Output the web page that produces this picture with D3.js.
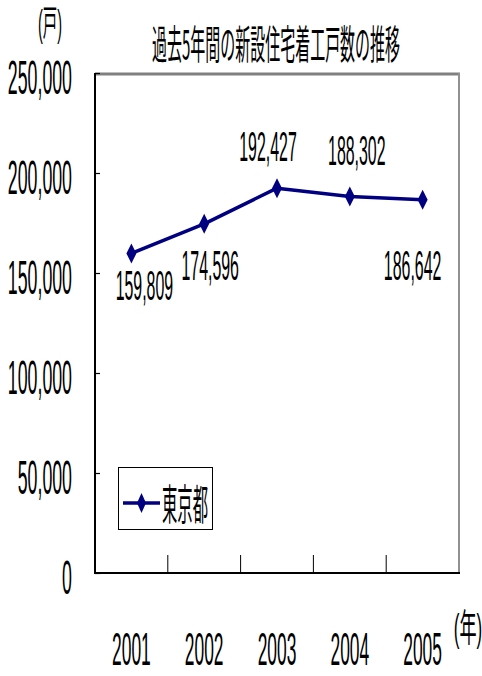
<!DOCTYPE html>
<html>
<head>
<meta charset="utf-8">
<script src="https://cdn.jsdelivr.net/npm/d3@7"></script>
<style>
  html, body { margin: 0; padding: 0; background: #fff; }
  svg { display: block; }
  .lat { font-family: "Liberation Sans", Arial, sans-serif; fill: #000; }
  .cjk { font-family: "Noto Sans CJK JP", sans-serif; fill: #000; }
  .mix { font-family: "Liberation Sans", "Noto Sans CJK JP", sans-serif; fill: #000; }
</style>
</head>
<body>
<script>
// New housing starts, Tokyo, 2001–2005
const years = ["2001", "2002", "2003", "2004", "2005"];
const tokyo = [159809, 174596, 192427, 188302, 186642];
const yTicks = [0, 50000, 100000, 150000, 200000, 250000];
const seriesName = "東京都";
const title = "過去5年間の新設住宅着工戸数の推移";

// hand placement of each value label relative to its point (px)
const labelNudge = [[13, 47], [6, 56], [-9, -27], [7, -31], [-10, 80]];

const W = 482, H = 676;
const plot = { left: 95, right: 459, top: 73, bottom: 573 };
const navy = "#000080";

const svg = d3.select("body").append("svg")
  .attr("width", W).attr("height", H);

const x = d3.scaleBand().domain(years).range([plot.left, plot.right]).padding(0);
const y = d3.scaleLinear().domain([0, 250000]).range([plot.bottom, plot.top]);
const fmt = d3.format(",");

// condensed text: glyphs squeezed horizontally
function label(g, text, px, py, size, sx, anchor, cls) {
  return g.append("text")
    .attr("class", cls || "lat")
    .attr("transform", `translate(${px},${py}) scale(${sx},1)`)
    .attr("text-anchor", anchor)
    .attr("font-size", size)
    .text(text);
}

// plot frame: grey top and right edges
svg.append("line")
  .attr("x1", plot.left).attr("x2", plot.right + 1)
  .attr("y1", plot.top + 1).attr("y2", plot.top + 1)
  .attr("stroke", "#808080").attr("stroke-width", 3);
svg.append("line")
  .attr("x1", plot.right).attr("x2", plot.right)
  .attr("y1", plot.top).attr("y2", plot.bottom)
  .attr("stroke", "#909090").attr("stroke-width", 2);

// y axis: inward ticks
const yAxis = svg.append("g")
  .attr("transform", `translate(${plot.left},0)`)
  .call(d3.axisLeft(y).tickValues(yTicks).tickSize(-5).tickFormat(""));
yAxis.selectAll("line").attr("stroke", "#000").attr("stroke-width", 1.2);
yAxis.select(".domain").attr("stroke", "#000").attr("stroke-width", 2)
  .attr("d", `M0,${plot.top}V${plot.bottom}`);

yTicks.forEach(v => label(svg, fmt(v), 72, y(v) + 21, 48, 0.37, "end"));

// x axis: ticks between categories, pointing up
const xAxis = svg.append("g")
  .attr("transform", `translate(0,${plot.bottom})`);
xAxis.append("line")
  .attr("x1", plot.left - 1).attr("x2", plot.right + 1)
  .attr("stroke", "#000").attr("stroke-width", 2);
xAxis.selectAll(".tk").data(years.slice(0, -1)).join("line")
  .attr("class", "tk")
  .attr("x1", d => x(d) + x.bandwidth()).attr("x2", d => x(d) + x.bandwidth())
  .attr("y1", 0).attr("y2", -18)
  .attr("stroke", "#000").attr("stroke-width", 1);

years.forEach(d => label(svg, d, x(d) + x.bandwidth() / 2, 665, 47, 0.37, "middle"));

// series line
const cx = d => x(d) + x.bandwidth() / 2;
const pts = years.map((d, i) => [cx(d), y(tokyo[i])]);
svg.append("path")
  .attr("d", d3.line()(pts))
  .attr("fill", "none").attr("stroke", navy).attr("stroke-width", 3.5)
  .attr("stroke-linejoin", "round");

const diamond = (px, py, w, h) =>
  `M${px},${py - h / 2}L${px + w / 2},${py}L${px},${py + h / 2}L${px - w / 2},${py}Z`;

svg.selectAll(".pt").data(pts).join("path")
  .attr("class", "pt")
  .attr("d", p => diamond(p[0], p[1], 10, 20))
  .attr("fill", navy);

// value labels
tokyo.forEach((v, i) => {
  const [px, py] = pts[i];
  label(svg, fmt(v), px + labelNudge[i][0], py + labelNudge[i][1], 43, 0.37, "middle");
});

// title and unit captions
label(svg, title, 276, 59, 40, 0.375, "middle", "cjk");
label(svg, "(戸)", 50, 36, 36, 0.4, "middle", "mix");
label(svg, "(年)", 468, 641, 38, 0.45, "middle", "mix");

// legend
const lg = svg.append("g");
lg.append("rect")
  .attr("x", 118.5).attr("y", 467.5).attr("width", 94).attr("height", 62)
  .attr("fill", "#fff").attr("stroke", "#000").attr("stroke-width", 1);
lg.append("line")
  .attr("x1", 123).attr("x2", 160).attr("y1", 503).attr("y2", 503)
  .attr("stroke", navy).attr("stroke-width", 3.5);
lg.append("path").attr("d", diamond(141.5, 503, 9, 20)).attr("fill", navy);
label(lg, seriesName, 162, 520, 42, 0.365, "start", "cjk");
</script>
</body>
</html>
